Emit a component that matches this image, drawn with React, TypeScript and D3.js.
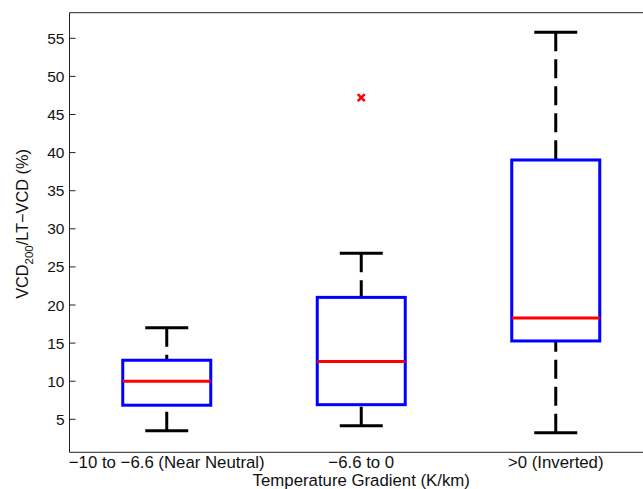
import React from "react";
import * as d3 from "d3";

const categories = ["\u221210 to \u22126.6 (Near Neutral)", "\u22126.6 to 0", ">0 (Inverted)"];
const lowerWhisker = [3.5, 4.16, 3.25];
const q1 = [6.85, 6.92, 15.28];
const medians = [10.0, 12.6, 18.3];
const q3 = [12.75, 21.0, 39.03];
const upperWhisker = [17.0, 26.8, 55.8];
const outlierGroups = [1];
const outlierValues = [47.2];
const yTicks = [5, 10, 15, 20, 25, 30, 35, 40, 45, 50, 55];

const W = 643;
const H = 489;
const left = 69.5;
const top = 12.7;
const bottom = 452.3;

export default function App() {
  const x = d3.scaleLinear().domain([0.5, 3.5]).range([left, 653]);
  const y = d3.scaleLinear().domain([0.67, 58.36]).range([bottom, top]);
  const boxW = 88;
  const capW = 43;
  const font = "'Liberation Sans', Arial, Helvetica, sans-serif";

  return (
    <svg width={W} height={H} style={{ position: "absolute", left: 0, top: 0 }} fontFamily={font}>
      <rect x={0} y={0} width={W} height={H} fill="white" />
      <line x1={left} y1={top} x2={W} y2={top} stroke="#222" strokeWidth={1} />
      <line x1={left} y1={bottom} x2={W} y2={bottom} stroke="#222" strokeWidth={1} />
      <line x1={left} y1={top} x2={left} y2={bottom} stroke="#222" strokeWidth={1} />
      {yTicks.map((t) => (
        <g key={t}>
          <line x1={left} x2={left + 6} y1={y(t)} y2={y(t)} stroke="#222" strokeWidth={1} />
          <text x={left - 5} y={y(t)} dy="0.36em" textAnchor="end" fontSize={15.5} fill="#111">
            {t}
          </text>
        </g>
      ))}
      {categories.map((c, i) => {
        const cx = x(i + 1);
        return (
          <g key={c}>
            <line x1={cx} x2={cx} y1={y(upperWhisker[i])} y2={y(q3[i])} stroke="black" strokeWidth={3} strokeDasharray="19,8" />
            <line x1={cx} x2={cx} y1={y(lowerWhisker[i])} y2={y(q1[i])} stroke="black" strokeWidth={3} strokeDasharray="19,8" />
            <line x1={cx - capW / 2} x2={cx + capW / 2} y1={y(upperWhisker[i])} y2={y(upperWhisker[i])} stroke="black" strokeWidth={3} />
            <line x1={cx - capW / 2} x2={cx + capW / 2} y1={y(lowerWhisker[i])} y2={y(lowerWhisker[i])} stroke="black" strokeWidth={3} />
            <rect x={cx - boxW / 2} y={y(q3[i])} width={boxW} height={y(q1[i]) - y(q3[i])} fill="none" stroke="#0000ff" strokeWidth={3} />
            <line x1={cx - boxW / 2} x2={cx + boxW / 2} y1={y(medians[i])} y2={y(medians[i])} stroke="#ff0000" strokeWidth={3} />
            <text x={cx} y={468} textAnchor="middle" fontSize={16.8} fill="#111">
              {c}
            </text>
          </g>
        );
      })}
      {outlierGroups.map((g, k) => {
        const cx = x(g + 1);
        const cy = y(outlierValues[k]);
        const s = 3.5;
        return (
          <path key={k} d={`M${cx - s},${cy - s}L${cx + s},${cy + s}M${cx - s},${cy + s}L${cx + s},${cy - s}`} stroke="#ff0000" strokeWidth={2.5} />
        );
      })}
      <text x={x(2)} y={486} textAnchor="middle" fontSize={16.8} fill="#111">
        Temperature Gradient (K/km)
      </text>
      <text transform={`translate(27.5, 224) rotate(-90)`} textAnchor="middle" fontSize={16.3} fill="#111">
        VCD<tspan fontSize={11.5} dy={5}>200</tspan>
        <tspan dy={-5}>{"/LT\u2212VCD (%)"}</tspan>
      </text>
    </svg>
  );
}
